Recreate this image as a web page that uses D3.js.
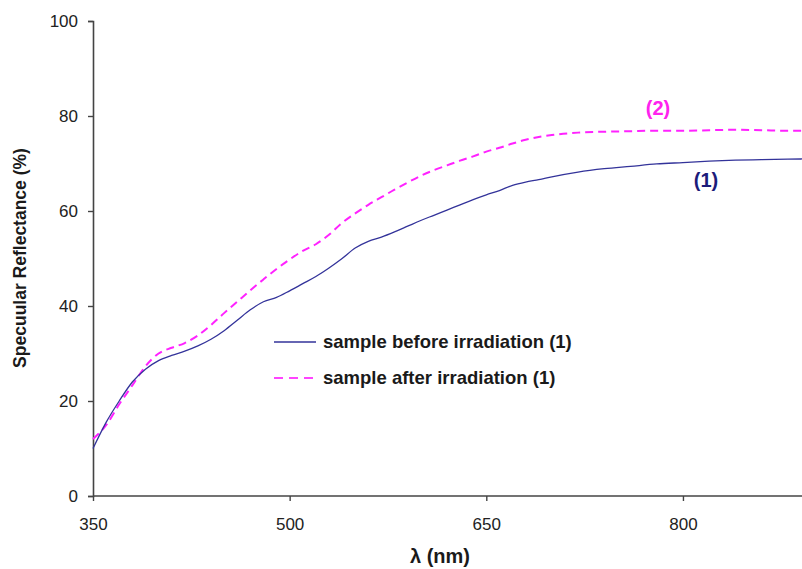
<!DOCTYPE html>
<html lang="en">
  <head>
    <meta charset="utf-8" />
    <title>Specular reflectance</title>
    <style>
      body { margin: 0; background: #fff; overflow: hidden; }
      svg { display: block; font-family: "Liberation Sans", Arial, sans-serif; }
    </style>
  </head>
  <body>
    <div id="chart"></div>
    <script src="https://d3js.org/d3.v7.min.js"></script>
    <script>
      // wavelength (nm)
      var wavelength = [350, 360, 370, 380, 390, 400, 410, 420, 430, 440, 450, 460, 470, 480, 490,
        500, 510, 520, 530, 540, 550, 560, 570, 580, 590, 600, 610, 620, 630, 640, 650, 660, 670,
        680, 690, 700, 720, 740, 760, 780, 800, 820, 840, 860, 880, 900];
      // sample before irradiation (1)
      var before = [10, 15.5, 20, 24, 26.7, 28.5, 29.6, 30.5, 31.6, 33, 34.8, 37, 39.2, 40.9, 41.8,
        43.2, 44.7, 46.2, 48, 50, 52.2, 53.6, 54.5, 55.6, 56.8, 58, 59.1, 60.2, 61.3, 62.4, 63.4, 64.3, 65.4,
        66.1, 66.6, 67.2, 68.2, 68.9, 69.4, 69.9, 70.2, 70.5, 70.7, 70.8, 70.9, 71];
      // sample after irradiation
      var after = [12, 14.9, 19.3, 23.3, 27.3, 30, 31.2, 32.2, 33.8, 36, 38.5, 40.9, 43.3, 45.6, 47.8,
        49.8, 51.6, 53, 55, 57.5, 59.5, 61.3, 62.9, 64.5, 66, 67.4, 68.6, 69.6, 70.6, 71.5, 72.5, 73.3, 74.2,
        75, 75.6, 76, 76.5, 76.7, 76.8, 76.9, 76.9, 77, 77.1, 77, 76.9, 76.9];
      var xTicks = [350, 500, 650, 800];
      var yTicks = [0, 20, 40, 60, 80, 100];
      var legendLabels = ["sample before irradiation (1)", "sample after irradiation (1)"];

      var W = 802, H = 569;
      var margin = { top: 21, left: 93, bottom: 73 };
      var plotH = H - margin.top - margin.bottom;

      var svg = d3.select("#chart").append("svg")
        .attr("width", W).attr("height", H);

      // x axis runs past the right edge of the picture (cropped)
      var x = d3.scaleLinear().domain([350, 900]).range([margin.left, margin.left + 550 * 1.311]);
      var y = d3.scaleLinear().domain([0, 100]).range([margin.top + plotH, margin.top]);

      var yAxis = svg.append("g")
        .attr("transform", "translate(" + margin.left + ",0)")
        .call(d3.axisLeft(y).tickValues(yTicks).tickSize(5).tickPadding(10));
      var xAxis = svg.append("g")
        .attr("transform", "translate(0," + y(0) + ")")
        .call(d3.axisBottom(x).tickValues(xTicks).tickSize(5).tickPadding(17));

      [xAxis, yAxis].forEach(function (g) {
        g.select(".domain").attr("stroke", "#444").attr("stroke-width", 1.6);
        g.selectAll(".tick line").attr("stroke", "#444").attr("stroke-width", 1.4);
        g.selectAll(".tick text").attr("fill", "#222").style("font-size", "17px");
      });
      xAxis.select(".domain").attr("d", "M" + margin.left + ",0H" + W);

      var line = d3.line()
        .x(function (d, i) { return x(wavelength[i]); })
        .y(function (d) { return y(d); })
        .curve(d3.curveMonotoneX);

      svg.append("path").datum(after)
        .attr("fill", "none").attr("stroke", "#ff22ff")
        .attr("stroke-width", 2).attr("stroke-dasharray", "8,5")
        .attr("d", line);
      svg.append("path").datum(before)
        .attr("fill", "none").attr("stroke", "#33339a")
        .attr("stroke-width", 1.3)
        .attr("d", line);

      // legend
      var legend = svg.append("g");
      var styles = [
        { stroke: "#33339a", width: 1.5, dash: null },
        { stroke: "#ff44ff", width: 2, dash: "9,6" }
      ];
      legendLabels.forEach(function (t, i) {
        var ly = 342 + i * 36;
        legend.append("line")
          .attr("x1", 274).attr("x2", 316).attr("y1", ly).attr("y2", ly)
          .attr("stroke", styles[i].stroke).attr("stroke-width", styles[i].width)
          .attr("stroke-dasharray", styles[i].dash);
        legend.append("text")
          .attr("x", 323).attr("y", ly + 6)
          .style("font-size", "18.5px").style("font-weight", "bold")
          .attr("fill", "#1a1a1a")
          .text(t);
      });

      // curve labels
      svg.append("text").attr("x", 658).attr("y", 115)
        .attr("text-anchor", "middle").attr("fill", "#ff22ee")
        .style("font-size", "20px").style("font-weight", "bold").text("(2)");
      svg.append("text").attr("x", 706).attr("y", 187)
        .attr("text-anchor", "middle").attr("fill", "#1c1c7a")
        .style("font-size", "20px").style("font-weight", "bold").text("(1)");

      // axis titles
      svg.append("text")
        .attr("transform", "translate(26," + 258 + ") rotate(-90)")
        .attr("text-anchor", "middle").attr("fill", "#1a1a1a")
        .style("font-size", "17.5px").style("font-weight", "bold")
        .text("Specuular Reflectance (%)");
      svg.append("text").attr("x", 440).attr("y", 563)
        .attr("text-anchor", "middle").attr("fill", "#1a1a1a")
        .style("font-size", "20px").style("font-weight", "bold")
        .text("λ (nm)");
    </script>
  </body>
</html>
